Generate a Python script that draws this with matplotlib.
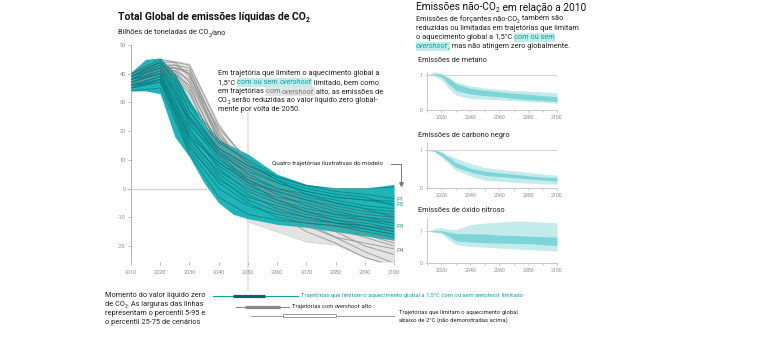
import matplotlib
matplotlib.use('Agg')
import matplotlib.pyplot as plt
import matplotlib.transforms as mtransforms
from matplotlib.patches import Rectangle
from matplotlib.lines import Line2D

plt.rcParams['font.family'] = ['Roboto', 'DejaVu Sans']
plt.rcParams['axes.unicode_minus'] = False

# ---------------- data ----------------
years = [2010, 2020, 2025, 2030, 2040, 2050, 2060, 2070, 2080, 2090, 2100]

# 1.5C no / limited overshoot pathways (GtCO2/yr)
teal_lines = [
    [39, 44, 38, 27, 14, 8, 4, 1, -1, -2, -3.5],
    [38, 42, 33, 22, 12, 6, 2, -1, -3, -4, -5.5],
    [37, 40, 30, 20, 9, 3, -1, -4, -6, -8, -9],
    [36, 39, 28, 17, 6, 0, -4, -7, -9, -11, -13],
    [35, 38, 26, 14, 3, -3, -6, -9, -11, -12, -14],
    [40, 45, 40, 30, 17, 9, 3, -2, -5, -7, -8],
    [38, 41, 32, 24, 13, 5, 0, -3, -5, -7, -10],
    [36, 37, 25, 13, 0, -6, -9, -11, -12, -13, -15],
    [34, 35, 24, 12, -3, -9, -11, -12, -13, -14, -16],
    [39, 43, 35, 25, 11, 2, -4, -8, -11, -13, -15],
    [37, 41, 34, 23, 10, 4, 0, -2, -4, -6, -7],
    [35, 38, 29, 19, 8, 1, -3, -5, -8, -10, -12],
    [38, 40, 31, 21, 7, -1, -5, -8, -10, -11, -12],
    [36, 39, 30, 18, 5, -2, -7, -10, -12, -14, -16],
    [40, 44, 37, 27, 13, 7, 2, -1, -3, -4, -4.5],
    [37, 40, 27, 16, 4, -4, -8, -10, -12, -13, -14],
    [39, 42, 34, 24, 12, 3, -2, -6, -9, -10, -11],
    [35, 37, 27, 15, 2, -5, -10, -12, -13, -15, -17],
    [38, 43, 36, 25, 14, 8, 3, 0, -2, -3, -6],
    [36, 38, 28, 18, 9, 2, -1, -4, -7, -9, -10],
    [39, 44, 39, 29, 16, 10, 4, 1, 0, 0, 0.5],
]

# high overshoot pathways
gray_lines = [
    [40, 44, 44, 43, 22, 9, -2, -10, -15, -20, -23],
    [38, 42, 42, 41, 20, 6, -5, -12, -17, -22, -26],
    [37, 41, 41, 38, 18, 5, -3, -8, -12, -15, -18],
    [39, 43, 43, 40, 16, 3, -6, -11, -14, -17, -20],
    [36, 40, 40, 36, 14, 2, -2, -6, -9, -12, -15],
    [38, 42, 43, 42, 19, 7, -1, -5, -8, -10, -12],
    [40, 45, 44, 39, 21, 10, 0, -4, -7, -9, -10],
    [37, 41, 40, 34, 12, -1, -9, -15, -19, -24, -27],
    [39, 43, 42, 37, 17, 4, -4, -9, -13, -16, -19],
    [36, 40, 39, 33, 13, 1, -7, -13, -17, -19, -21],
    [38, 42, 41, 35, 15, 5, -3, -7, -10, -13, -14],
    [37, 41, 42, 40, 18, 8, 1, -3, -6, -8, -9],
]

env_years = [2010, 2015, 2020, 2025, 2030, 2035, 2040, 2045, 2050, 2060, 2070, 2080, 2090, 2100]
teal_hi = [40.5, 45, 45.5, 40, 31, 22, 17, 14.5, 12, 5, 1.5, 0, 0, 1.5]
teal_lo = [34, 34, 33, 18, 11, 2, -5, -9, -10.5, -12.5, -13.5, -15, -16.5, -18]
gray_hi = [40.5, 43, 45, 44.5, 43.5, 33, 22.5, 15, 11, 4, 0, -1, -1.5, -2]
gray_lo = [35, 35, 36, 34, 25, 12, 3, -4, -11.5, -15, -18.5, -19.5, -24, -27]

p_labels = ['P1', 'P2', 'P3', 'P4']
p_values = [-3.7, -5.5, -13.3, -21.6]

# non-CO2 emissions relative to 2010
nc_years = [2010, 2015, 2020, 2025, 2030, 2040, 2050, 2060, 2070, 2080, 2090, 2100]
ch4_p5 = [1.0, 0.97, 0.86, 0.62, 0.43, 0.33, 0.31, 0.29, 0.27, 0.24, 0.22, 0.19]
ch4_p25 = [1.0, 1.0, 0.95, 0.74, 0.56, 0.46, 0.41, 0.38, 0.33, 0.30, 0.27, 0.24]
ch4_p75 = [1.0, 1.03, 1.02, 0.92, 0.75, 0.62, 0.56, 0.52, 0.48, 0.45, 0.41, 0.38]
ch4_p95 = [1.0, 1.09, 1.07, 0.90, 0.81, 0.69, 0.63, 0.59, 0.56, 0.54, 0.52, 0.49]

bc_p5 = [1.0, 0.96, 0.82, 0.64, 0.47, 0.32, 0.20, 0.18, 0.15, 0.13, 0.11, 0.10]
bc_p25 = [1.0, 0.97, 0.85, 0.70, 0.55, 0.42, 0.33, 0.30, 0.27, 0.24, 0.21, 0.18]
bc_p75 = [1.0, 1.0, 0.93, 0.80, 0.67, 0.52, 0.44, 0.40, 0.36, 0.32, 0.29, 0.27]
bc_p95 = [1.0, 1.02, 0.96, 0.87, 0.78, 0.65, 0.54, 0.49, 0.45, 0.41, 0.37, 0.34]

n2o_p5 = [1.0, 0.98, 0.93, 0.74, 0.58, 0.52, 0.50, 0.47, 0.45, 0.42, 0.40, 0.37]
n2o_p25 = [1.0, 0.98, 0.97, 0.85, 0.70, 0.66, 0.64, 0.63, 0.62, 0.61, 0.58, 0.55]
n2o_p75 = [1.0, 1.02, 1.02, 0.97, 0.93, 0.92, 0.92, 0.88, 0.87, 0.85, 0.83, 0.82]
n2o_p95 = [1.0, 1.08, 1.12, 1.07, 1.05, 1.21, 1.26, 1.29, 1.32, 1.32, 1.29, 1.27]

# timing of net zero CO2 (5, 25, 75, 95 percentiles)
nz_p5 = [2038, 2046, 2051]
nz_p25 = [2045, 2049, 2062]
nz_p75 = [2056, 2061, 2080]
nz_p95 = [2067, 2064, 2100]

# ---------------- style ----------------
TEAL_BAND = '#1fb5b7'
TEAL_LINE = '#0b7b80'
TEAL_TXT = '#139ea0'
TEAL_BG = '#c3ebeb'
GRAY_BG = '#e4e4e4'
TXT = '#222222'
TICK = '#8a8a8a'

W, H = 764, 338
fig = plt.figure(figsize=(W / 100, H / 100), dpi=100)
fig.patch.set_facecolor('white')


def fx(x):
    return x / W


def fy(y):
    return 1 - y / H


def seg_width(s, **kw):
    r = fig.canvas.get_renderer()
    t1 = fig.text(0, 0, '|' + s + '|', **kw)
    t2 = fig.text(0, 0, '||', **kw)
    w = t1.get_window_extent(r).width - t2.get_window_extent(r).width
    t1.remove()
    t2.remove()
    return w


def rich(x, y, parts, size, weight='normal', color=TXT):
    # parts: plain string, or (text, color, italic, background[, subscript])
    for p in parts:
        if isinstance(p, str):
            p = (p, color, False, None)
        s, c, italic, bg = p[:4]
        sub = len(p) > 4 and p[4]
        sz = size * 0.65 if sub else size
        dy = size * 100 / 72 * 0.28 if sub else 0
        kw = dict(fontsize=sz, color=c, fontweight=weight,
                  fontstyle='italic' if italic else 'normal')
        w = seg_width(s, **kw)
        if bg:
            hh = size * 1.75
            fig.add_artist(Rectangle((fx(x - 0.5), fy(y + hh / 2)), (w + 1) / W, hh / H,
                                     transform=fig.transFigure, fc=bg, ec='none', zorder=5))
        fig.text(fx(x), fy(y + dy), s, va='center', ha='left', zorder=6, **kw)
        x += w


def sub2(c=TXT):
    return ('2', c, False, None, True)


# ---------------- main CO2 chart ----------------
ax = fig.add_axes([fx(131), fy(262), (394 - 131) / W, (262 - 45) / H])
ax.patch.set_visible(False)
ax.set_xlim(2010, 2100)
ax.set_ylim(-25.6, 50)

ax.fill_between(env_years, gray_lo, gray_hi, color='#e3e3e3', ec='#d0d0d0', lw=0.5, zorder=1)
ax.fill_between(env_years, teal_lo, teal_hi, color=TEAL_BAND, lw=0, zorder=2)
for ln in gray_lines:
    ax.plot(years, ln, color='#8f8f8f', lw=0.7, alpha=0.8, zorder=3)
for ln in teal_lines:
    ax.plot(years, ln, color=TEAL_LINE, lw=0.7, alpha=0.7, zorder=4)

ax.axhline(0, xmin=-0.015, color='#d2d2d2', lw=1, zorder=0.6, clip_on=False)
ax.axvline(2050, ymin=-0.13, ymax=0.687, color='#e6e6e6', lw=1.6, zorder=0.5, clip_on=False)

for sp in ['top', 'right', 'bottom']:
    ax.spines[sp].set_visible(False)
ax.spines['left'].set_color('#b0b0b0')
ax.spines['left'].set_linewidth(0.7)
ax.set_yticks(range(-20, 51, 10))
ax.set_xticks(range(2010, 2101, 10))
ax.tick_params(axis='both', labelsize=4, colors='#b0b0b0', labelcolor=TICK, length=2, width=0.6, pad=2)
ax.tick_params(axis='x', pad=4)

for lab, val in zip(p_labels, p_values):
    c = TEAL_TXT if lab != 'P4' else '#777777'
    ax.text(2100.8, val, lab, fontsize=4.5, color=c, va='center', ha='left', clip_on=False)

fig.text(fx(272), fy(164), 'Quatro trajetórias ilustrativas do modelo', fontsize=4.5,
         color=TXT, va='center', ha='left')
fig.add_artist(Line2D([fx(391), fx(401), fx(401)], [fy(164), fy(164), fy(183)],
                      color='#777777', lw=0.7, transform=fig.transFigure))
fig.add_artist(Line2D([fx(401)], [fy(184)], marker='v', ms=2.5, color='#777777',
                      transform=fig.transFigure))

rich(118, 17, ['Total Global de emissões líquidas de CO', sub2('#111111')], 7.5,
     weight='bold', color='#111111')
rich(118, 33, ['Bilhões de toneladas de CO', sub2(), '/ano'], 5.3)

fs = 5.3
rich(218, 73.3, ['Em trajetória que limitem o aquecimento global a'], fs)
rich(218, 82.5, ['1,5°C ', ('com ou sem ', TEAL_TXT, False, TEAL_BG),
                 ('overshoot', TEAL_TXT, True, TEAL_BG), ' limitado, bem como'], fs)
rich(218, 91.5, ['em trajetórias ', ('com ', '#777777', False, GRAY_BG),
                 ('overshoot', '#777777', True, GRAY_BG), ' alto, as emissões de'], fs)
rich(218, 100.5, ['CO', sub2(), ' serão reduzidas ao valor líquido zero global-'], fs)
rich(218, 109.5, ['mente por volta de 2050.'], fs)

# ---------------- non-CO2 panels ----------------
rich(416, 7.5, ['Emissões não-CO', sub2('#111111'), ' em relação a 2010'], 7.3, color='#111111')
rich(416, 19, ['Emissões de forçantes não-CO', sub2(), ' também são'], fs)
rich(416, 28.3, ['reduzidas ou limitadas em trajetórias que limitam'], fs)
rich(416, 37.3, ['o aquecimento global a 1,5°C ', ('com ou sem', TEAL_TXT, False, TEAL_BG)], fs)
rich(416, 46.5, [('overshoot', TEAL_TXT, True, TEAL_BG), (',', TEAL_TXT, False, TEAL_BG),
                 ' mas não atingem zero globalmente.'], fs)

panels = [
    ('Emissões de metano', 61, 72, 110, ch4_p5, ch4_p25, ch4_p75, ch4_p95),
    ('Emissões de carbono negro', 135, 143, 188, bc_p5, bc_p25, bc_p75, bc_p95),
    ('Emissões de óxido nitroso', 211, 218, 263, n2o_p5, n2o_p25, n2o_p75, n2o_p95),
]
for title, ty, top, bottom, p5, p25, p75, p95 in panels:
    fig.text(fx(418), fy(ty), title, fontsize=fs, color=TXT, va='center', ha='left')
    a = fig.add_axes([fx(427), fy(bottom), 130 / W, (bottom - top) / H])
    a.patch.set_visible(False)
    a.set_xlim(2010, 2100)
    unit = 35 if bottom == 110 else (38 if bottom == 188 else 31.7)
    a.set_ylim(0, (bottom - top) / unit)
    a.fill_between(nc_years, p5, p95, color='#c4ebeb', lw=0, zorder=2)
    a.fill_between(nc_years, p25, p75, color='#7ed5d7', lw=0, zorder=3)
    a.axhline(1, color='#d5d5d5', lw=0.8, zorder=1)
    for sp in ['top', 'right']:
        a.spines[sp].set_visible(False)
    for sp in ['left', 'bottom']:
        a.spines[sp].set_color('#c8c8c8')
        a.spines[sp].set_linewidth(0.7)
    a.set_yticks([0, 1])
    a.set_xticks(range(2020, 2101, 20))
    a.set_xticks(range(2010, 2101, 10), minor=True)
    a.tick_params(axis='both', which='both', labelsize=3.8, colors='#c0c0c0', labelcolor=TICK,
                  length=1.5, width=0.6, pad=2)

# ---------------- net zero timing legend ----------------
trans = mtransforms.blended_transform_factory(ax.transData, fig.transFigure)
rich(105, 295.7, ['Momento do valor líquido zero'], fs)
rich(105, 304.6, ['de CO', sub2(), '. As larguras das linhas'], fs)
rich(105, 313.5, ['representam o percentil 5-95 e'], fs)
rich(105, 322.4, ['o percentil 25-75 de cenários'], fs)

row_y = [295.7, 306.7, 315.7]
# row 1: 1.5C no / limited overshoot
fig.add_artist(Line2D([nz_p5[0], nz_p95[0]], [fy(row_y[0])] * 2, transform=trans,
                      color=TEAL_TXT, lw=0.8))
fig.add_artist(Line2D([nz_p25[0], nz_p75[0]], [fy(row_y[0])] * 2, transform=trans,
                      color='#0b6468', lw=2.3, solid_capstyle='butt'))
# row 2: high overshoot
fig.add_artist(Line2D([nz_p5[1], nz_p95[1]], [fy(row_y[1])] * 2, transform=trans,
                      color='#8a8a8a', lw=0.8))
fig.add_artist(Line2D([nz_p25[1], nz_p75[1]], [fy(row_y[1])] * 2, transform=trans,
                      color='#8a8a8a', lw=2.3, solid_capstyle='butt'))
# row 3: below 2C
fig.add_artist(Line2D([nz_p5[2], nz_p95[2]], [fy(row_y[2])] * 2, transform=trans,
                      color='#8a8a8a', lw=0.6))
fig.add_artist(Rectangle((nz_p25[2], fy(row_y[2] + 1.6)), nz_p75[2] - nz_p25[2], 3.2 / H,
                         transform=trans, fc='white', ec='#8a8a8a', lw=0.6, zorder=3))

to_px = lambda yr: 131 + (yr - 2010) * (394 - 131) / 90
ls = 4.2
rich(to_px(nz_p95[0]) + 3, row_y[0], ['Trajetórias que limitam o aquecimento global a 1,5°C com ou sem ',
                                      ('overshoot', TEAL_TXT, True, None), ' limitado'], ls, color=TEAL_TXT)
rich(to_px(nz_p95[1]) + 3, row_y[1], ['Trajetórias com ', ('overshoot', TXT, True, None), ' alto'], ls)
rich(to_px(nz_p95[2]) + 5, row_y[2] - 3.5, ['Trajetórias que limitam o aquecimento global'], ls)
rich(to_px(nz_p95[2]) + 5, row_y[2] + 4.5, ['abaixo de 2°C (não demonstradas acima)'], ls)

fig.savefig('out.png', dpi=100, facecolor='white')
